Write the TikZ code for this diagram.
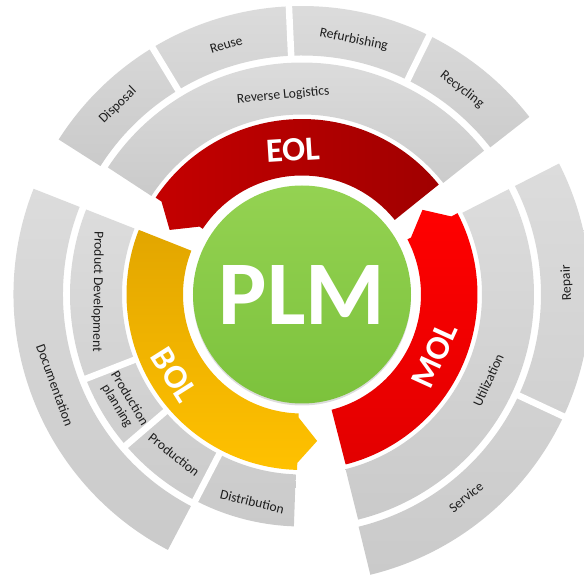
\documentclass[tikz,border=0pt]{standalone}
\usepackage{fontspec}
\setmainfont{Carlito}
\usepackage{tikz}
\usepackage{xcolor}
\definecolor{ring-light}{RGB}{220,220,220}
\definecolor{ring-dark}{RGB}{202,202,202}
\definecolor{label-gray}{RGB}{30,30,30}
\definecolor{eol-light}{RGB}{196,0,0}
\definecolor{eol-dark}{RGB}{160,0,0}
\definecolor{mol-light}{RGB}{255,0,0}
\definecolor{mol-dark}{RGB}{226,0,0}
\definecolor{bol-light}{RGB}{226,166,0}
\definecolor{bol-dark}{RGB}{255,193,0}
\definecolor{plm-light}{RGB}{148,210,82}
\definecolor{plm-dark}{RGB}{124,194,60}
\newcommand{\ringsector}[4]{(#1:#3) arc[start angle=#1, end angle=#2, radius=#3] -- (#2:#4) arc[start angle=#2, end angle=#1, radius=#4] -- cycle}
\newcommand{\phasearrow}[4]{(#1:#3) arc[start angle=#1, end angle=#2, radius=#3] -- (#2:{#3+4}) -- ({#2+7.5}:{(#3+#4)/2}) -- (#2:{#4-7}) -- (#2:#4) arc[start angle=#2, end angle=#1, radius=#4] -- cycle}
\tikzset{
    ring-segment/.style = {top color=ring-light, bottom color=ring-dark, draw=none},
    ring-gap/.style = {draw=white, line width=6.5pt},
    ring-label/.style = {text=label-gray, inner sep=0pt, align=center, font=\fontsize{13.6}{14.5}\selectfont},
    phase-label/.style = {text=white, inner sep=0pt, font=\bfseries\fontsize{34}{34}\selectfont},
    plm-circle/.style = {circle, minimum size=218pt, inner sep=0pt, top color=plm-light, bottom color=plm-dark, text=white, font=\bfseries\fontsize{91}{91}\selectfont},
}

\begin{document}
\begin{tikzpicture}[x=1pt, y=1pt]
\useasboundingbox (-302,-280.5) rectangle (282,294.5);
\clip (-302,-280.5) rectangle (282,294.5);

% end of life
\path[ring-segment] \ringsector{38}{147.5}{239}{288.5};
\path[ring-segment] \ringsector{38.3}{146.8}{180}{232};
\draw[ring-gap] (121.2:236) -- (121.2:292);
\draw[ring-gap] (92.6:236) -- (92.6:292);
\draw[ring-gap] (63.8:236) -- (63.8:292);

% beginning of life
\path[ring-segment] \ringsector{158.5}{242.3}{239}{288.5};
\path[ring-segment] \ringsector{158.5}{268}{180}{232};
\draw[ring-gap] (201.3:177) -- (201.3:235);
\draw[ring-gap] (220.6:177) -- (220.6:235);
\draw[ring-gap] (242.6:177) -- (242.6:235);

% middle of life
\path[ring-segment] \ringsector{283.7}{387}{239}{288.5};
\path[ring-segment] \ringsector{284}{387}{180}{232};
\draw[ring-gap] (335:236) -- (335:292);

\path[top color=mol-light, bottom color=mol-dark] \phasearrow{284.4}{387.6}{119}{175.5};
\path[left color=eol-light, right color=eol-dark] \phasearrow{38.8}{146.5}{119}{175.5};
\path[top color=bol-light, bottom color=bol-dark] \phasearrow{158.4}{268.4}{119}{175.5};

\fill[ring-light] (0,-2) circle[radius=109];
\node[plm-circle] (plm) at (0,0) {PLM};

\node[phase-label, rotate=3.6] (eol) at (93.6:145) {EOL};
\node[phase-label, rotate=-57.8] (bol) at (212.2:151) {BOL};
\node[phase-label, rotate=65.5] (mol) at (-24.5:146) {MOL};

\node[ring-label, rotate=5.4] (revlog) at (95.4:200) {Reverse Logistics};
\node[ring-label, rotate=44.2] (disposal) at (134.2:264) {Disposal};
\node[ring-label, rotate=16.9] (reuse) at (106.9:261) {Reuse};
\node[ring-label, rotate=-11.5] (refurb) at (78.5:260) {Refurbishing};
\node[ring-label, rotate=-38] (recycle) at (52:260) {Recycling};
\node[ring-label, rotate=-90.8] (proddev) at (179.2:204.5) {Product Development};
\node[ring-label, rotate=-69.9] (docu) at (200.1:263) {Documentation};
\node[ring-label, rotate=-58.9] (prodplan) at (211.1:209) {Production\\planning};
\node[ring-label, rotate=-38.6] (prod) at (231.4:205) {Production};
\node[ring-label, rotate=-13.5] (distrib) at (256.5:213) {Distribution};
\node[ring-label, rotate=65.3] (util) at (-24.7:205) {Utilization};
\node[ring-label, rotate=92.5] (repair) at (2.5:265) {Repair};
\node[ring-label, rotate=39] (service) at (-51:260.6) {Service};
\end{tikzpicture}
\end{document}
